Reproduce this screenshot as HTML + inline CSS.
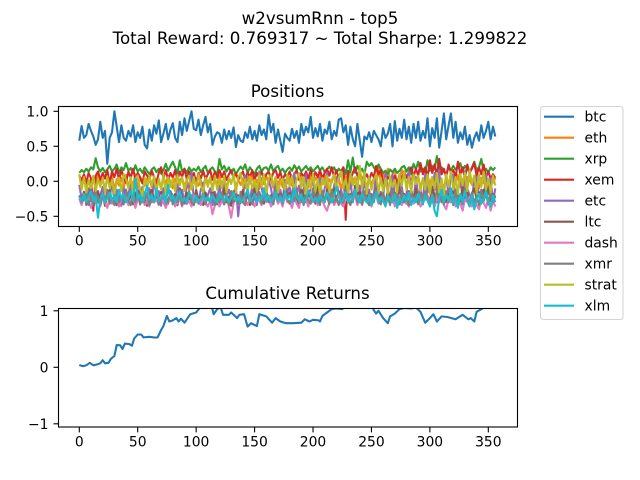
<!DOCTYPE html>
<html>
<head>
<meta charset="utf-8">
<title>w2vsumRnn - top5</title>
<style>
html,body{margin:0;padding:0;background:#fff;}
svg{display:block;font-family:"DejaVu Sans","Liberation Sans",sans-serif;fill:#000;}
</style>
</head>
<body>
<svg id="chart" width="640" height="480" viewBox="0 0 640 480">
<defs>
<clipPath id="clip-top"><rect x="58.5" y="106.5" width="459" height="120"/></clipPath>
<clipPath id="clip-bottom"><rect x="58.5" y="308.5" width="459" height="118.5"/></clipPath>
</defs>
<text x="320" y="24" font-size="16.67" text-anchor="middle">w2vsumRnn - top5</text>
<text x="320" y="44" font-size="16.67" text-anchor="middle">Total Reward: 0.769317 ~ Total Sharpe: 1.299822</text>
<text x="287.5" y="97" font-size="16.67" text-anchor="middle">Positions</text>
<text x="287.5" y="299" font-size="16.67" text-anchor="middle">Cumulative Returns</text>
<g id="top-series" clip-path="url(#clip-top)"></g>
<g id="bottom-series" clip-path="url(#clip-bottom)"></g>
<rect x="58.5" y="106.5" width="459" height="120" fill="none" stroke="#000" stroke-width="1.1"/>
<rect x="58.5" y="308.5" width="459" height="118.5" fill="none" stroke="#000" stroke-width="1.1"/>
<g id="ticks"></g>
<g id="legend">
<rect x="540.5" y="106.5" width="82.5" height="213" rx="3" fill="#fff" stroke="#d5d5d5" stroke-width="1.1"/>
</g>
</svg>
<script>
const seriesNames = ["btc","eth","xrp","xem","etc","ltc","dash","xmr","strat","xlm"];
const seriesColors = ["#1f77b4","#ff7f0e","#2ca02c","#d62728","#9467bd","#8c564b","#e377c2","#7f7f7f","#bcbd22","#17becf"];
const positionStep = 2;
const xTicks = [0,50,100,150,200,250,300,350];
const topYTicks = [1,0.5,0,-0.5];
const topYLabels = ["1.0","0.5","0.0","\u22120.5"];
const bottomYTicks = [1,0,-1];
const bottomYLabels = ["1","0","\u22121"];

const btc = [.58,.79,.62,.66,.82,.72,.64,.52,.6,.85,
.62,.72,.25,.62,.7,1.0,.78,.56,.8,.62,
.58,.72,.64,.8,.56,.7,.62,.78,.52,.47,
.74,.58,.8,.68,.87,.56,.68,.82,.6,.74,
.83,.62,.56,.85,.66,.9,.72,.86,1.0,.75,
.73,.88,.66,.8,.92,.7,.82,.52,.64,.7,
.68,.55,.74,.6,.72,.62,.77,.49,.66,.58,
.56,.7,.62,.78,.6,.72,.58,.8,.66,.74,
.6,.95,.7,.82,.55,.74,.58,.42,.68,.62,
.58,.75,.62,.72,.55,.82,.66,.78,.7,.92,
.62,.76,.64,.82,.58,.74,.68,.85,.6,.72,
.65,.88,.9,.7,.8,.52,.78,.6,.5,.82,
.58,.35,.64,.6,.7,.56,.72,.66,.6,.5,
.76,.62,.68,.82,.5,.86,.58,.75,.62,.88,
.6,.78,.55,.82,.62,.85,.58,.72,.62,.9,
.5,.76,.62,.9,.48,.72,.97,.6,.8,.97,
.62,.85,.55,.7,.6,.78,.52,.66,.48,.62,
.7,.58,.8,.62,.72,.85,.6,.78,.64];
const eth = [.1,-.05,.08,-.1,.02,-.12,.05,-.08,.09,-.02,
.02,-.1,.06,-.04,.08,-.12,.03,-.06,.05,-.1,
.09,-.08,.02,-.05,.1,-.1,.05,.01,-.06,.04,
.02,-.08,.07,-.05,.03,-.1,.06,-.04,.08,-.02,
-.1,.04,-.06,.02,.05,-.08,.03,-.12,.06,-.02,
.04,-.06,.01,-.1,.07,-.03,.05,-.09,.02,-.04,
.08,-.06,.03,-.1,.05,-.02,.06,-.08,.02,-.05,
.04,-.1,.06,-.03,.08,-.07,.02,-.11,.05,-.04,
.07,-.02,.03,-.09,.06,-.05,.04,-.08,.02,-.03,
.06,-.06,.05,.02,.1,.05,-.05,.04,-.08,.1,
-.06,.05,.02,.12,-.04,.08,-.1,.03,-.02,.1,
-.05,.06,-.12,.03,.08,-.06,-.1,.04,-.02,.05,
.07,-.02,.03,-.09,.06,-.05,.04,-.08,.2,-.03,
.12,-.06,.18,.02,.1,.15,-.05,.04,.16,.1,
-.06,.05,.02,.12,-.04,.08,-.1,.03,-.02,.1,
-.05,.06,-.12,.03,.08,-.06,-.1,.04,-.02,.05,
.07,-.04,.09,-.08,.03,-.1,.06,.02,-.05,.08,
.03,-.1,.05,-.03,.07,-.06,.04,-.02,.05];
const xrp = [.12,.16,.13,.18,.14,.2,.17,.33,.2,.14,
.19,.13,.17,.22,.14,.18,.24,.12,.2,.16,
.26,.15,.19,.12,.23,.14,.18,.12,.2,.15,
.1,.17,.2,.13,.18,.11,.16,.25,.15,.22,
.28,.2,.12,.3,.14,.18,.12,.2,.14,.18,
.15,.21,.13,.18,.22,.12,.17,.2,.14,.1,
.32,.17,.22,.14,.2,.12,.18,.1,.16,.21,
.17,.24,.12,.2,.15,.1,.18,.22,.14,.19,
.2,.15,.24,.14,.19,.22,.14,.18,.12,.17,
.2,.15,.23,.17,.21,.14,.18,.22,.16,.2,
.14,.18,.22,.16,.2,.13,.17,.21,.15,.2,
.12,.18,.14,.2,.1,.3,.13,.34,.12,.22,
.14,.18,.1,.28,.22,.26,.2,.14,.24,.18,
.12,.15,.1,.17,.13,.18,.12,.15,.2,.22,
.14,.2,.1,.25,.17,.28,.14,.18,.12,.3,
.15,.22,.17,.36,.15,.2,.14,.1,.2,.16,
.22,.17,.2,.26,.14,.22,.18,.12,.2,.28,
.16,.2,.32,.14,.18,.12,.2,.16,.2];
const xem = [.08,.02,.1,-.02,.12,.04,-.42,.08,.14,.02,
.12,.04,.16,-.03,.14,.06,.18,.02,.16,.06,
-.02,.14,.05,.18,.02,.12,.06,-.03,.14,.08,
.03,.15,.06,-.02,.12,.2,.04,.16,.02,.12,
.05,.16,.02,.14,.06,.18,.03,.14,.05,.12,
-.02,.12,.04,.15,.03,.1,.16,.02,.14,.05,
.16,.06,.14,.02,.1,.16,.04,.12,.02,.08,
.14,.03,.13,.06,.16,.02,.12,.05,.14,.04,
.1,.14,.03,.12,.16,.05,.13,.02,.1,.06,
.14,.03,.1,.16,.02,.12,.06,.14,.04,.16,
.03,.13,.06,.16,.04,.12,.18,.08,.2,.06,
.16,.04,.14,.2,-.55,.15,.02,.12,.2,.08,
.14,.03,.04,.1,.02,.12,.06,.22,.1,.16,
-.04,-.02,.06,.02,-.06,.08,-.04,.1,.04,.14,
.05,.13,.2,.06,.18,.08,.26,.1,.2,.06,
.3,.12,.24,.08,.32,.1,.18,.06,.24,.12,
.16,.06,.28,.1,.2,.04,.24,.12,.18,.26,
.08,.2,.1,.24,.06,.14,.04,.1,.05];
const etc = [-.05,-.25,-.15,-.34,-.1,-.28,-.18,-.12,-.3,-.2,
-.08,-.32,-.15,-.25,.02,-.3,-.12,-.22,-.35,-.1,
-.28,-.18,-.05,-.3,-.2,-.12,-.33,-.08,-.25,-.18,
-.1,-.3,.03,-.22,-.14,-.35,-.1,-.28,-.12,-.15,
-.2,-.3,-.05,-.25,-.12,-.32,-.06,-.08,.12,-.25,
-.18,-.3,-.12,-.02,-.28,-.2,-.1,-.34,-.15,-.25,
-.06,-.3,.04,-.2,-.12,-.33,-.18,-.08,-.5,-.15,
-.24,.08,-.12,-.3,-.05,-.22,-.34,.14,-.08,-.28,
-.18,.02,-.1,-.3,.05,-.2,-.12,-.28,.02,-.16,
-.08,-.25,.12,-.18,-.06,-.3,-.14,.1,-.22,-.1,
.08,-.28,-.14,.05,-.25,-.1,.12,-.2,-.3,-.06,
.06,-.22,-.12,-.28,-.02,-.18,.02,-.3,-.1,-.2,
-.06,-.3,.04,-.2,-.12,-.33,-.18,.06,-.28,-.15,
-.24,.12,-.12,-.3,.1,-.22,-.34,.02,-.08,-.28,
-.18,.14,-.1,-.3,.06,-.2,-.12,-.28,.1,-.16,
-.08,-.25,.12,-.18,.16,-.3,-.14,.1,-.22,.12,
.08,-.28,-.14,.05,-.25,.14,-.1,-.2,-.3,.06,
.06,-.22,-.12,-.28,.1,-.18,.04,-.3,-.1];
const ltc = [-.2,-.3,-.15,-.32,-.22,-.1,-.36,-.25,-.14,-.28,
-.18,-.35,-.22,-.12,-.3,-.2,-.34,-.15,-.25,-.3,
-.12,-.28,-.2,-.33,-.16,-.26,-.1,-.3,-.22,-.35,
-.18,-.12,-.29,-.22,-.33,-.15,-.25,-.2,-.32,-.14,
-.28,-.18,-.34,-.1,-.24,-.3,-.16,-.26,-.2,-.32,
-.12,-.28,-.22,-.34,-.16,-.25,-.3,-.14,-.2,-.33,
-.18,-.27,-.1,-.3,-.22,-.35,-.14,-.26,-.2,-.31,
-.12,-.28,-.18,-.34,-.22,-.1,-.3,-.16,-.25,-.32,
-.14,-.27,-.2,-.33,-.1,-.26,-.18,-.3,-.08,-.22,
-.16,-.28,-.12,-.24,-.34,-.1,-.2,-.3,-.14,-.26,
-.18,-.32,-.08,-.24,-.16,-.3,-.12,-.26,-.18,-.1,
-.28,-.14,-.22,-.32,-.08,-.25,-.18,-.28,-.06,-.2,
-.15,-.3,-.22,-.12,-.33,-.2,-.27,-.1,-.3,-.18,
-.25,-.32,-.12,-.24,-.3,-.16,-.26,-.08,-.28,-.18,
-.32,-.14,-.24,-.3,-.1,-.26,-.18,-.33,-.12,-.22,
-.28,-.08,-.2,-.3,-.14,-.26,-.1,-.3,-.18,-.24,
-.12,-.28,-.2,-.32,-.08,-.24,-.14,-.3,-.18,-.1,
-.26,-.16,-.3,-.12,-.22,-.08,-.28,-.18,-.24];
const dash = [-.25,-.34,-.2,-.3,-.28,-.38,-.22,-.3,-.26,-.36,
-.2,-.3,-.38,-.24,-.32,-.28,-.2,-.36,-.26,-.3,
-.22,-.34,-.28,-.2,-.38,-.26,-.3,-.22,-.34,-.28,
-.36,-.22,-.3,-.26,-.34,-.2,-.3,-.38,-.28,-.28,
-.22,-.36,-.3,-.26,-.36,-.24,-.32,-.28,-.36,-.2,
-.3,-.26,-.34,-.24,-.3,-.36,-.28,-.47,-.34,-.24,
-.36,-.28,-.33,-.2,-.36,-.52,-.3,-.26,-.34,-.24,
-.3,-.26,-.34,-.24,-.3,-.36,-.22,-.28,-.34,-.2,
-.3,-.24,-.36,-.28,-.22,-.32,-.26,-.36,-.2,-.3,
-.28,-.38,-.24,-.32,-.38,-.2,-.3,-.26,-.36,-.22,
-.3,-.26,-.34,-.2,-.28,-.36,-.42,-.3,-.22,-.34,
-.28,-.2,-.32,-.36,-.26,-.22,-.3,-.28,-.2,-.34,
-.26,-.34,-.22,-.3,-.28,-.36,-.24,-.2,-.32,-.28,
-.22,-.34,-.26,-.3,-.22,-.36,-.26,-.2,-.34,-.26,
-.3,-.36,-.24,-.32,-.28,-.22,-.36,-.3,-.26,-.2,
-.34,-.28,-.36,-.24,-.3,-.2,-.34,-.4,-.26,-.3,
-.22,-.36,-.28,-.32,-.42,-.26,-.3,-.22,-.36,-.28,
-.34,-.4,-.26,-.3,-.38,-.24,-.42,-.28,-.36];
const xmr = [-.2,-.3,-.26,-.18,-.34,-.22,-.32,-.15,-.28,-.34,
-.2,-.3,-.12,-.32,-.24,-.34,-.18,-.3,-.22,-.33,
-.12,-.28,-.34,-.2,-.3,-.16,-.33,-.24,-.3,-.18,
-.34,-.22,-.3,-.14,-.33,-.26,-.2,-.32,-.28,-.16,
-.33,-.22,-.3,-.18,-.34,-.25,-.32,-.14,-.3,-.34,
-.2,-.32,-.26,-.16,-.33,-.22,-.3,-.18,-.34,-.24,
-.3,-.16,-.33,-.22,-.34,-.14,-.3,-.25,-.33,-.18,
-.3,-.34,-.12,-.26,-.33,-.2,-.3,-.15,-.32,-.24,
-.16,-.3,-.22,-.33,-.1,-.28,-.2,-.32,-.14,-.26,
-.32,-.18,-.28,-.12,-.3,-.22,-.34,-.16,-.28,-.32,
-.1,-.3,-.2,-.34,-.14,-.28,-.22,-.33,-.12,-.3,
-.24,-.34,-.18,-.3,-.1,-.28,-.34,-.2,-.12,-.3,
-.2,-.33,-.14,-.28,-.34,-.18,-.3,-.12,-.26,-.33,
-.16,-.3,-.22,-.34,-.1,-.28,-.18,-.33,-.14,-.3,
-.24,-.34,-.12,-.28,-.2,-.33,-.16,-.3,-.1,-.26,
-.34,-.18,-.3,-.12,-.28,-.22,-.33,-.14,-.3,-.2,
-.34,-.12,-.28,-.18,-.33,-.1,-.26,-.32,-.16,-.3,
-.22,-.34,-.12,-.28,-.18,-.33,-.14,-.3,-.2];
const strat = [.1,-.12,.06,-.16,.02,-.1,.08,-.14,.04,-.08,
.05,-.16,.07,-.1,.02,-.18,-.02,.05,-.14,.1,
.03,-.1,.06,-.18,.04,.08,-.12,-.2,.05,-.1,
.08,-.06,.07,-.16,.04,-.12,.1,-.2,.06,-.08,
.04,-.14,.09,-.06,.06,-.14,.02,.08,-.12,.06,
-.1,.1,-.04,-.16,.05,-.08,.06,-.14,.08,-.12,
.03,-.1,.08,-.16,.05,-.04,.1,-.16,.06,.12,
-.08,.03,-.16,.07,-.1,.02,-.14,.1,-.08,.1,
-.16,.04,.1,-.06,.06,-.16,-.02,.04,-.14,.1,
-.07,.07,-.16,.03,.12,-.1,.06,-.18,.02,-.1,
.1,-.14,.03,-.18,.05,-.06,.08,-.16,.02,.1,
-.12,.05,.14,-.1,.04,-.16,.1,-.06,.06,-.14,
.22,-.1,.14,-.18,.06,-.12,.02,.1,-.16,.05,
-.14,.04,-.18,.06,-.08,.02,-.16,.1,-.06,.14,
-.12,.06,-.16,.1,-.04,.08,-.14,.05,-.12,.1,
-.18,.06,-.1,.12,-.16,.04,-.2,.1,-.08,.14,
-.12,.06,-.18,.1,-.06,.12,-.14,.16,-.04,.08,
-.16,.1,-.08,.14,-.12,.04,-.16,.08,-.06];
const xlm = [-.22,-.28,-.18,-.3,-.22,-.14,-.28,-.22,-.52,-.25,
-.18,-.3,-.24,-.16,-.28,-.2,-.3,-.12,-.26,-.18,
-.3,-.24,-.14,-.28,.04,-.26,-.18,-.3,-.2,-.06,
-.26,-.2,-.3,-.1,-.28,-.24,-.18,-.3,-.05,-.26,
-.2,-.3,-.22,-.14,-.28,-.24,-.3,-.16,-.22,-.28,
-.2,-.3,-.26,-.18,-.28,-.22,-.3,-.2,-.26,-.3,
-.18,-.24,-.28,-.2,-.3,-.24,-.16,-.28,-.22,-.3,
-.26,-.2,-.12,-.28,-.24,-.18,-.3,-.22,-.26,-.1,
-.28,-.2,-.3,-.24,-.16,-.28,-.22,-.3,-.14,-.26,
-.2,-.3,-.1,-.22,-.28,-.18,-.3,-.26,-.14,-.2,
-.28,-.24,-.3,-.2,-.26,-.3,-.16,-.24,-.3,-.22,
-.08,-.2,-.3,-.26,-.16,-.3,-.2,-.28,-.12,-.24,
-.3,-.18,-.26,-.3,-.2,-.34,-.24,-.16,-.3,-.22,
-.28,-.36,-.2,-.26,-.3,-.18,-.38,-.24,-.3,-.2,
-.28,-.16,-.34,-.24,-.3,-.18,-.26,-.32,-.2,-.28,
-.36,-.2,-.42,-.5,-.24,-.12,-.3,-.2,-.28,-.1,
-.32,-.24,-.38,-.18,-.3,-.14,-.28,-.36,-.2,-.4,
-.26,-.18,-.32,-.24,-.14,-.3,-.36,-.2,-.3];
const positions = [btc,eth,xrp,xem,etc,ltc,dash,xmr,strat,xlm];

const returnDays = [0,3,6,9,12,15,18,20,22,25,27,30,32,35,37,39,43,45,47,50,53,55,60,65,67,70,72,75,77,80,83,85,87,90,95,100,103,106,110,113,115,118,121,123,128,130,135,137,141,144,147,152,154,160,165,168,172,177,181,183,190,193,197,200,205,206,208,212,216,220,225,228,232,238,244,250,252,254,256,260,264,266,270,274,278,284,288,292,296,300,303,306,310,315,322,328,333,335,338,340,345,350,357];
const returnValues = [.04,.02,.035,.08,.035,.05,.07,.125,.07,.08,.15,.2,.395,.39,.325,.42,.41,.38,.51,.58,.58,.53,.54,.525,.53,.66,.73,.91,.81,.83,.87,.81,.86,.79,.94,.97,1.05,1.12,1.15,1.1,.94,1.03,1.06,.93,.93,.97,.87,.93,.94,.72,.78,.73,.94,.9,.79,.87,.81,.78,.78,.78,.79,.85,.81,.84,.83,.81,.91,.97,1.03,1.04,1.03,1.08,1.15,1.2,1.15,1.1,1.01,.95,1,.87,.78,.9,.95,1.03,1.05,1.04,1.06,.98,.79,.87,.94,.81,.9,.89,.85,.93,.85,.87,.81,.98,1.04,1.1,1.12];

const SVG_NS = "http://www.w3.org/2000/svg";
const sx = v => 79.3 + v * 1.1686;
const syTop = v => 181.3 - v * 70;
const syBottom = v => 367.3 - v * 56.5;

function makeLine(points, color) {
  const line = document.createElementNS(SVG_NS, "polyline");
  line.setAttribute("points", points.join(" "));
  line.setAttribute("fill", "none");
  line.setAttribute("stroke", color);
  line.setAttribute("stroke-width", "2.08");
  line.setAttribute("stroke-linejoin", "round");
  return line;
}
function makeMark(x1, y1, x2, y2) {
  const t = document.createElementNS(SVG_NS, "line");
  t.setAttribute("x1", x1);
  t.setAttribute("y1", y1);
  t.setAttribute("x2", x2);
  t.setAttribute("y2", y2);
  t.setAttribute("stroke", "#000");
  t.setAttribute("stroke-width", "1.1");
  return t;
}
function makeText(x, y, str, anchor, size) {
  const t = document.createElementNS(SVG_NS, "text");
  t.setAttribute("x", x);
  t.setAttribute("y", y);
  t.setAttribute("font-size", size);
  t.setAttribute("text-anchor", anchor);
  t.textContent = str;
  return t;
}

const topGroup = document.getElementById("top-series");
positions.forEach((values, s) => {
  const pts = values.map((v, i) => sx(i * positionStep).toFixed(1) + "," + syTop(v).toFixed(1));
  const line = makeLine(pts, seriesColors[s]);
  
  
  topGroup.appendChild(line);
});

const bottomGroup = document.getElementById("bottom-series");
const returnPts = returnValues.map((v, i) => sx(returnDays[i]).toFixed(1) + "," + syBottom(v).toFixed(1));
const returnLine = makeLine(returnPts, seriesColors[0]);


bottomGroup.appendChild(returnLine);

const tickGroup = document.getElementById("ticks");
[[227, 245.5], [427.5, 446.5]].forEach(([base, labelY]) => {
  xTicks.forEach(v => {
    const mark = makeMark(sx(v), base, sx(v), base + 4.9);
    
    
    tickGroup.appendChild(mark);
    const label = makeText(sx(v), labelY, String(v), "middle", 13.89);
    
    
    tickGroup.appendChild(label);
  });
});
topYTicks.forEach((v, i) => {
  const mark = makeMark(53.5, syTop(v), 58.5, syTop(v));
  
  
  tickGroup.appendChild(mark);
  const label = makeText(48.5, syTop(v) + 5.2, topYLabels[i], "end", 13.89);
  
  
  tickGroup.appendChild(label);
});
bottomYTicks.forEach((v, i) => {
  const mark = makeMark(53.5, syBottom(v), 58.5, syBottom(v));
  
  
  tickGroup.appendChild(mark);
  const label = makeText(48.5, syBottom(v) + 5.2, bottomYLabels[i], "end", 13.89);
  
  
  tickGroup.appendChild(label);
});

const legendGroup = document.getElementById("legend");
seriesNames.forEach((name, i) => {
  const y = 116.7 + i * 21;
  const sample = document.createElementNS(SVG_NS, "line");
  sample.setAttribute("x1", 544);
  sample.setAttribute("x2", 574);
  sample.setAttribute("y1", y);
  sample.setAttribute("y2", y);
  sample.setAttribute("stroke", seriesColors[i]);
  sample.setAttribute("stroke-width", "2.08");
  
  
  legendGroup.appendChild(sample);
  const label = makeText(584.5, y + 5, name, "start", 13.89);
  
  
  legendGroup.appendChild(label);
});
</script>
</body>
</html>
